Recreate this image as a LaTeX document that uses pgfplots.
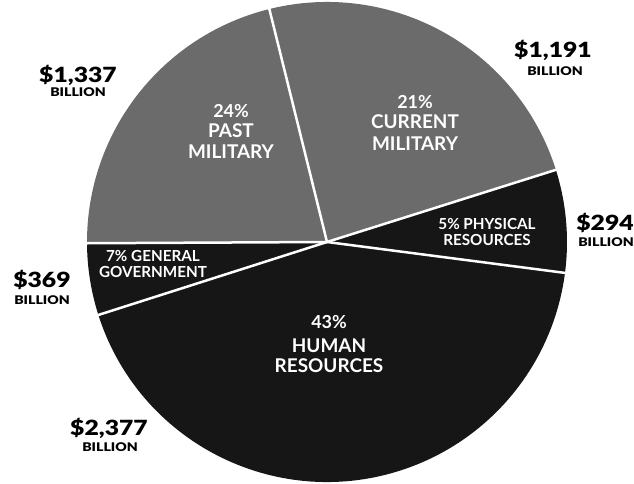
\documentclass[border=0pt]{standalone}
\usepackage{fontspec}
\setmainfont{Lato}
\newfontfamily\heavy{Lato Black}[FakeStretch=1.18]
\usepackage{pgfplots}
\usepackage{pgfplotstable}
\pgfplotsset{compat=1.18}
\definecolor{pgray}{RGB}{107,107,107}
\definecolor{pblack}{RGB}{22,22,22}

% slices: drawn start/end angle (deg), shade (1 = gray, 0 = black), value in $bn
\pgfplotstableread{
start end shade value
-7.4 17.5 0 294
17.5 103.9 1 1191
103.9 180.3 1 1337
180.3 197.7 0 369
197.7 352.6 0 2377
}\slices

\begin{document}
\begin{tikzpicture}
\begin{axis}[
  x=1bp, y=1bp,
  xmin=0, xmax=634, ymin=0, ymax=484,
  hide axis, clip=false,
]
\pgfplotsforeachungrouped \i in {0,...,4}{%
  \pgfplotstablegetelem{\i}{start}\of\slices \let\sa=\pgfplotsretval
  \pgfplotstablegetelem{\i}{end}\of\slices \let\ea=\pgfplotsretval
  \pgfplotstablegetelem{\i}{shade}\of\slices \let\sh=\pgfplotsretval
  \ifnum\sh=1 \def\col{pgray}\else\def\col{pblack}\fi
  \edef\temp{\noexpand\fill[\col] (axis cs:327,242) -- (axis cs:{327+240*cos(\sa)},{242+240*sin(\sa)}) arc[start angle=\sa, end angle=\ea, radius=240bp] -- cycle;}%
  \temp
}
\pgfplotsforeachungrouped \i in {0,...,4}{%
  \pgfplotstablegetelem{\i}{start}\of\slices \let\sa=\pgfplotsretval
  \edef\temp{\noexpand\draw[white, line width=2.5bp] (axis cs:327,242) -- (axis cs:{327+241*cos(\sa)},{242+241*sin(\sa)});}%
  \temp
}
% slice labels
\tikzset{big/.style={text=white, font=\bfseries\fontsize{19}{20}\selectfont, anchor=base},
         pct/.style={text=white, font=\bfseries\fontsize{18}{18}\selectfont, anchor=base},
         small/.style={text=white, font=\bfseries\fontsize{15.3}{14}\selectfont, anchor=base},
         dollar/.style={font=\heavy\fontsize{21}{21}\selectfont, anchor=base},
         bill/.style={font=\heavy\fontsize{12}{12}\selectfont, anchor=base}}
\node[pct] at (axis cs:231,367) {24\%};
\node[big] at (axis cs:231,347) {PAST};
\node[big] at (axis cs:231,326) {MILITARY};
\node[pct] at (axis cs:415,376) {21\%};
\node[big] at (axis cs:415,356) {CURRENT};
\node[big] at (axis cs:415,334) {MILITARY};
\node[pct] at (axis cs:329,156) {43\%};
\node[big] at (axis cs:329,132) {HUMAN};
\node[big] at (axis cs:329,112) {RESOURCES};
\node[small] at (axis cs:487,255) {5\% PHYSICAL};
\node[small] at (axis cs:487,239) {RESOURCES};
\node[small] at (axis cs:153,223) {7\% GENERAL};
\node[small] at (axis cs:153,207) {GOVERNMENT};
% value labels
\node[dollar] at (axis cs:78,402) {\$1,337};
\node[bill] at (axis cs:78,388) {BILLION};
\node[dollar] at (axis cs:553,427) {\$1,191};
\node[bill] at (axis cs:555,409) {BILLION};
\node[dollar] at (axis cs:605,254) {\$294};
\node[bill] at (axis cs:606,238) {BILLION};
\node[dollar] at (axis cs:42,197) {\$369};
\node[bill] at (axis cs:42,180) {BILLION};
\node[dollar] at (axis cs:109,49) {\$2,377};
\node[bill] at (axis cs:110,33) {BILLION};
\end{axis}
\pgfresetboundingbox
\path (0,0) rectangle (634bp,484bp);
\end{tikzpicture}
\end{document}
